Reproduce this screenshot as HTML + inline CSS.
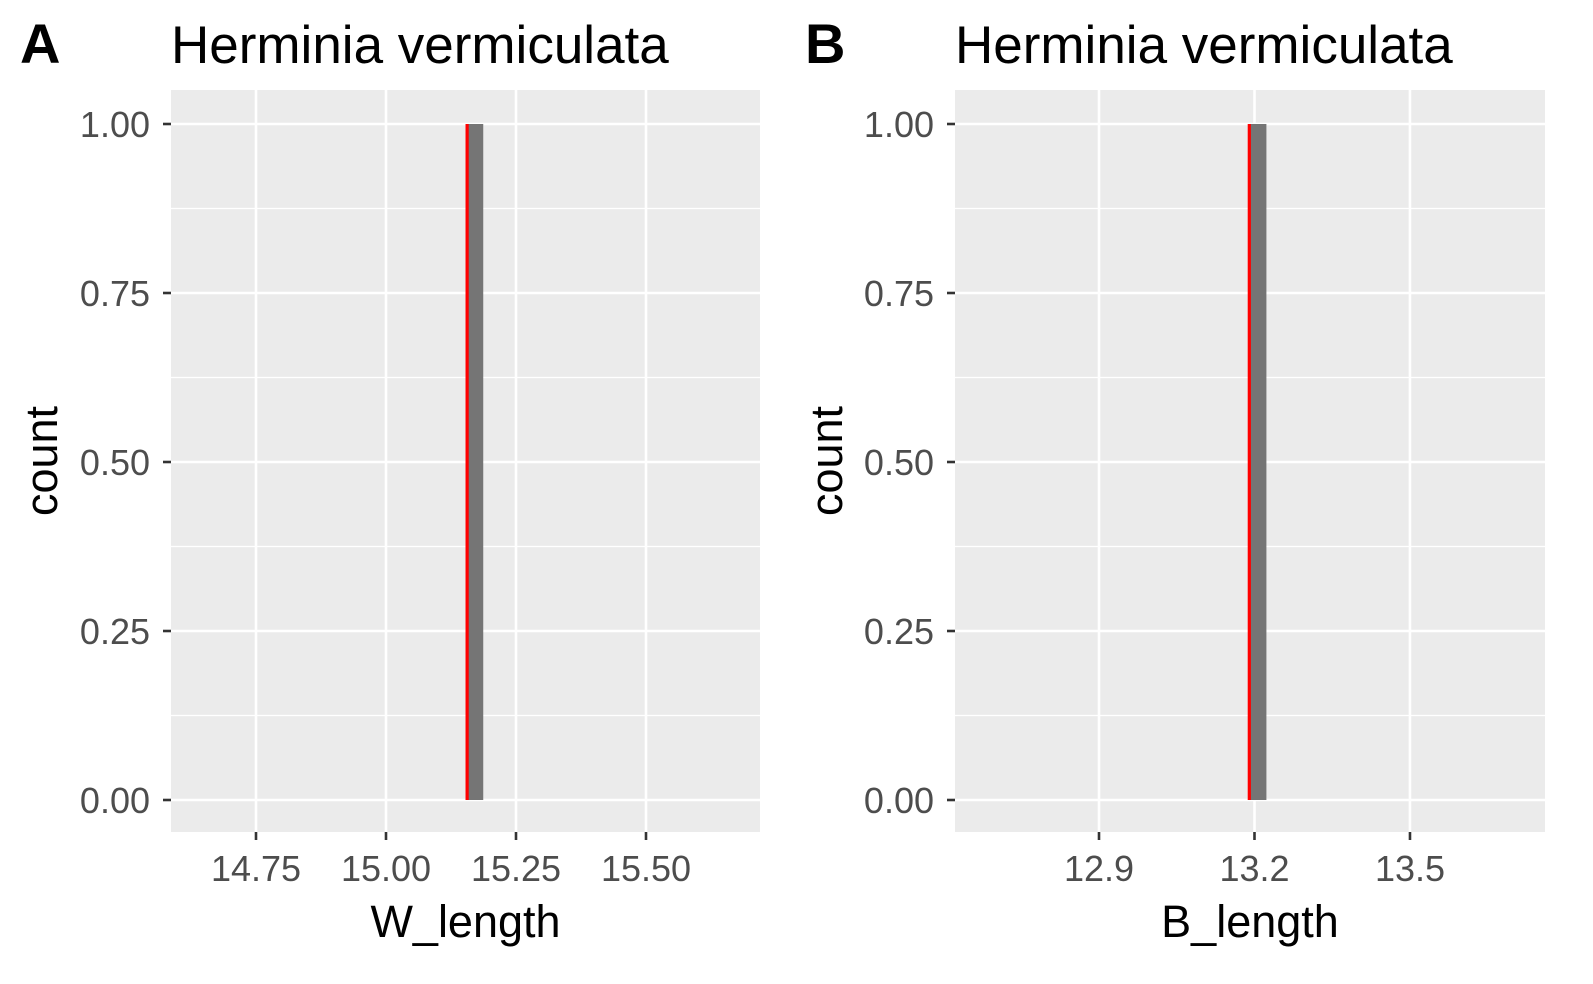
<!DOCTYPE html>
<html><head><meta charset="utf-8"><style>body{margin:0;background:#fff}svg{display:block}</style></head>
<body>
<svg id="chart" width="1593" height="984" xmlns="http://www.w3.org/2000/svg" font-family="Liberation Sans, Arial, sans-serif"></svg>
<script>
const panelLabels = ["A", "B"];
const panelTitles = ["Herminia vermiculata", "Herminia vermiculata"];
const xTitles = ["W_length", "B_length"];
const xTicksA = [14.75, 15.00, 15.25, 15.50];
const xTickLabelsA = ["14.75", "15.00", "15.25", "15.50"];
const xTicksB = [12.9, 13.2, 13.5];
const xTickLabelsB = ["12.9", "13.2", "13.5"];
const yTicks = [0, 0.25, 0.5, 0.75, 1];
const yTickLabels = ["0.00", "0.25", "0.50", "0.75", "1.00"];
const binStartA = [15.156];
const binEndA = [15.187];
const countsA = [1];
const meanA = 15.156;
const binStartB = [13.190];
const binEndB = [13.223];
const countsB = [1];
const meanB = 13.190;

const NS = "http://www.w3.org/2000/svg";
const svg = document.getElementById("chart");
function mk(tag, attrs, parent, text) {
  const e = document.createElementNS(NS, tag);
  for (const k in attrs) e.setAttribute(k, attrs[k]);
  if (text !== undefined) e.textContent = text;
  (parent || svg).appendChild(e);
  return e;
}

function panel(cfg) {
  const g = mk("g", {});
  
  
  const L = cfg.left, R = cfg.right, T = 90, B = 832;
  const xs = v => cfg.x0px + (v - cfg.x0) * cfg.pxPerUnit;
  const ys = v => 800 - v * 676;
  const bg = mk("rect", {x: L, y: T, width: R - L, height: B - T, fill: "#ebebeb"}, g);
  
  
  const step = cfg.ticks[1] - cfg.ticks[0];
  for (let v = cfg.ticks[0] - step * 1.5; v <= cfg.ticks[cfg.ticks.length - 1] + step * 1.5; v += step) {
    const x = xs(v + step / 2);
    if (x > L && x < R) mk("line", {x1: x, x2: x, y1: T, y2: B, stroke: "#fff", "stroke-width": 1.2}, g);
  }
  for (let i = 0; i < yTicks.length - 1; i++) {
    const y = ys((yTicks[i] + yTicks[i + 1]) / 2);
    mk("line", {x1: L, x2: R, y1: y, y2: y, stroke: "#fff", "stroke-width": 1.2}, g);
  }
  yTicks.forEach((v, i) => {
    const y = ys(v);
    mk("line", {x1: L, x2: R, y1: y, y2: y, stroke: "#fff", "stroke-width": 2.6}, g);
    mk("line", {x1: L - 8, x2: L, y1: y, y2: y, stroke: "#333", "stroke-width": 2.6}, g);
    const t = mk("text", {x: L - 21, y: y + 13, "text-anchor": "end", "font-size": 36, fill: "#4d4d4d"}, g, yTickLabels[i]);
    
    
  });
  cfg.ticks.forEach((v, i) => {
    const x = xs(v);
    mk("line", {x1: x, x2: x, y1: T, y2: B, stroke: "#fff", "stroke-width": 2.6}, g);
    mk("line", {x1: x, x2: x, y1: B, y2: B + 8, stroke: "#333", "stroke-width": 2.6}, g);
    const t = mk("text", {x: x, y: B + 49, "text-anchor": "middle", "font-size": 36, fill: "#4d4d4d"}, g, cfg.tickLabels[i]);
    
    
  });
  cfg.starts.forEach((s, i) => {
    const x1 = xs(s), x2 = xs(cfg.ends[i]);
    const r = mk("rect", {x: x1, y: ys(cfg.counts[i]), width: x2 - x1, height: ys(0) - ys(cfg.counts[i]), fill: "#757575"}, g);
    
    
  });
  const ml = mk("line", {x1: xs(cfg.mean), x2: xs(cfg.mean), y1: ys(1), y2: ys(0), stroke: "#ff0000", "stroke-width": 3.2}, g);
  
  
  const pl = mk("text", {x: cfg.labelX, y: 63, "font-size": 56, "font-weight": "bold", fill: "#000"}, g, cfg.label);
  
  
  const ti = mk("text", {x: L, y: 63, "font-size": 53, fill: "#000"}, g, cfg.title);
  
  
  const xt = mk("text", {x: (L + R) / 2, y: 937, "text-anchor": "middle", "font-size": 45, fill: "#000"}, g, cfg.xTitle);
  
  
  const cy = (T + B) / 2;
  const yt = mk("text", {x: 0, y: 0, "text-anchor": "middle", "font-size": 45, fill: "#000", transform: `translate(${cfg.labelX + 37},${cy}) rotate(-90)`}, g, "count");
  
  
}

panel({name: "panel-a", left: 171, right: 760, x0: 15.0, x0px: 386, pxPerUnit: 520,
  ticks: xTicksA, tickLabels: xTickLabelsA, starts: binStartA, ends: binEndA, counts: countsA, mean: meanA,
  label: panelLabels[0], title: panelTitles[0], xTitle: xTitles[0], labelX: 20});
panel({name: "panel-b", left: 955, right: 1545, x0: 12.9, x0px: 1099, pxPerUnit: 518.3,
  ticks: xTicksB, tickLabels: xTickLabelsB, starts: binStartB, ends: binEndB, counts: countsB, mean: meanB,
  label: panelLabels[1], title: panelTitles[1], xTitle: xTitles[1], labelX: 805});
</script>
</body></html>
